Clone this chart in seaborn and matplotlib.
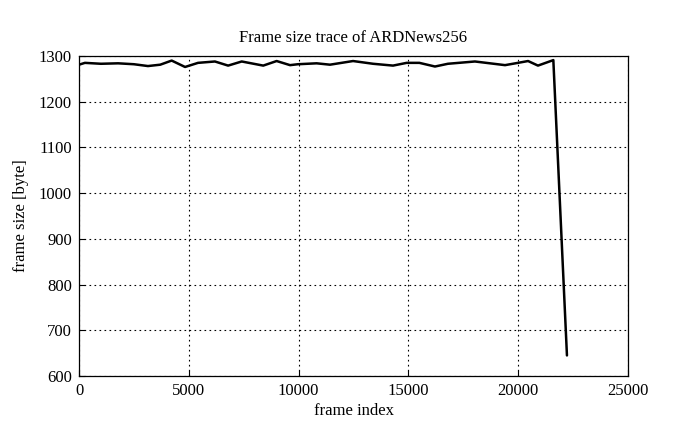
import numpy as np
import pandas as pd
import seaborn as sns
import matplotlib.pyplot as plt

# frame index / frame size
frame_index = [0, 270, 1000, 1780, 2500, 3140, 3700, 4220, 4830, 5420, 6190, 6790,
               7410, 8390, 9000, 9610, 9970, 10820, 11430, 12480, 13390, 14300,
               14920, 15500, 16210, 16800, 18030, 19400, 19990, 20450, 20900,
               21600, 22220]
frame_size = [1281, 1285, 1283, 1284, 1282, 1278, 1281, 1290, 1276, 1285, 1288, 1279,
              1288, 1279, 1289, 1280, 1282, 1284, 1281, 1289, 1283, 1279,
              1285, 1285, 1277, 1283, 1288, 1280, 1285, 1289, 1279,
              1291, 645]

data = pd.DataFrame({'frame index': frame_index, 'frame size': frame_size})

sns.set_style('ticks')
plt.rcParams['font.family'] = ['Liberation Serif', 'DejaVu Serif']
plt.rcParams['text.color'] = 'black'
plt.rcParams['axes.labelcolor'] = 'black'
plt.rcParams['xtick.color'] = 'black'
plt.rcParams['ytick.color'] = 'black'

fig = plt.figure(figsize=(6.95, 4.29), dpi=100)
ax = fig.add_axes([79 / 695, 1 - 376 / 429, 549 / 695, 320 / 429])

sns.lineplot(data=data, x='frame index', y='frame size', ax=ax,
             color='black', linewidth=1.8)

ax.set_xlim(0, 25000)
ax.set_ylim(600, 1300)
ax.set_xticks(range(0, 25001, 5000))
ax.set_yticks(range(600, 1301, 100))
ax.grid(True, color='black', linestyle=(0, (1.5, 3)), linewidth=0.8)
ax.tick_params(direction='in', length=4, width=0.8, labelsize=12, pad=5)
for s in ax.spines.values():
    s.set_linewidth(0.9)
    s.set_color('black')

ax.set_title('Frame size trace of ARDNews256', fontsize=12, pad=10)
ax.set_xlabel('frame index', fontsize=12, labelpad=3)
ax.set_ylabel('frame size [byte]', fontsize=12, labelpad=7)

plt.savefig('out.png', dpi=100)
